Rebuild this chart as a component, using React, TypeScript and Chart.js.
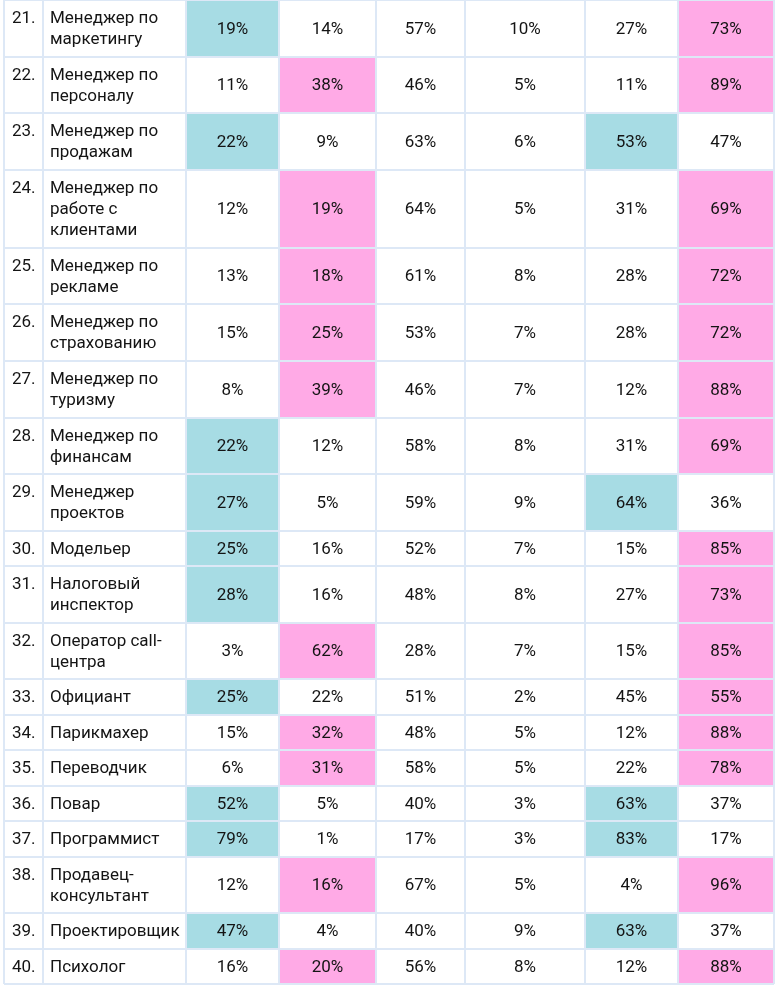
import React, { useEffect, useRef } from "react";
import { Chart, registerables } from "chart.js";

Chart.register(...registerables);

// ---- data ----
const rowNumbers = ["21.", "22.", "23.", "24.", "25.", "26.", "27.", "28.", "29.", "30.", "31.", "32.", "33.", "34.", "35.", "36.", "37.", "38.", "39.", "40."];
const professions: string[][] = [
  ["Менеджер по", "маркетингу"],
  ["Менеджер по", "персоналу"],
  ["Менеджер по", "продажам"],
  ["Менеджер по", "работе с", "клиентами"],
  ["Менеджер по", "рекламе"],
  ["Менеджер по", "страхованию"],
  ["Менеджер по", "туризму"],
  ["Менеджер по", "финансам"],
  ["Менеджер", "проектов"],
  ["Модельер"],
  ["Налоговый", "инспектор"],
  ["Оператор call-", "центра"],
  ["Официант"],
  ["Парикмахер"],
  ["Переводчик"],
  ["Повар"],
  ["Программист"],
  ["Продавец-", "консультант"],
  ["Проектировщик"],
  ["Психолог"],
];
const col1 = [19, 11, 22, 12, 13, 15, 8, 22, 27, 25, 28, 3, 25, 15, 6, 52, 79, 12, 47, 16];
const col2 = [14, 38, 9, 19, 18, 25, 39, 12, 5, 16, 16, 62, 22, 32, 31, 5, 1, 16, 4, 20];
const col3 = [57, 46, 63, 64, 61, 53, 46, 58, 59, 52, 48, 28, 51, 48, 58, 40, 17, 67, 40, 56];
const col4 = [10, 5, 6, 5, 8, 7, 7, 8, 9, 7, 8, 7, 2, 5, 5, 3, 3, 5, 9, 8];
const col5 = [27, 11, 53, 31, 28, 28, 12, 31, 64, 15, 27, 15, 45, 12, 22, 63, 83, 4, 63, 12];
const col6 = [73, 89, 47, 69, 72, 72, 88, 69, 36, 85, 73, 85, 55, 88, 78, 37, 17, 96, 37, 88];
const valueColumns = [col1, col2, col3, col4, col5, col6];

// ---- layout / style ----
const COL_WIDTHS = [39, 143, 93, 97, 89, 120, 93, 96];
const LINE_UNIT = 1;
const ROW_PAD = 0.67;
const TEAL = "#a7dce4";
const PINK = "#ffaae6";
const GRID = "#dde8f6";
const FONT = "17px Roboto, 'Noto Sans', sans-serif";
const TEXT = "#141414";

const colEdges: number[] = [0];
COL_WIDTHS.forEach((w) => colEdges.push(colEdges[colEdges.length - 1] + w));
const rowEdges: number[] = [0];
professions.forEach((p) => rowEdges.push(rowEdges[rowEdges.length - 1] + p.length * LINE_UNIT + ROW_PAD));
const TOTAL_W = colEdges[colEdges.length - 1];
const TOTAL_H = rowEdges[rowEdges.length - 1];

function highlight(r: number, c: number): string | null {
  // pairs (col1,col2) and (col5,col6): larger share is marked
  if (c === 0 && col1[r] > col2[r]) return TEAL;
  if (c === 1 && col2[r] >= col1[r]) return PINK;
  if (c === 4 && col5[r] > col6[r]) return TEAL;
  if (c === 5 && col6[r] >= col5[r]) return PINK;
  return null;
}

const tablePlugin = {
  id: "tablePlugin",
  afterDatasetsDraw(chart: any) {
    const ctx = chart.ctx as CanvasRenderingContext2D;
    const xs = chart.scales.x;
    const ys = chart.scales.y;
    const px = (v: number) => xs.getPixelForValue(v);
    const py = (v: number) => ys.getPixelForValue(v);
    const lineH = Math.abs(py(LINE_UNIT) - py(0));
    ctx.save();
    // fills
    for (let r = 0; r < professions.length; r++) {
      for (let c = 0; c < valueColumns.length; c++) {
        const col = highlight(r, c);
        if (!col) continue;
        const x0 = px(colEdges[c + 2]);
        const x1 = px(colEdges[c + 3]);
        const y0 = py(rowEdges[r]);
        const y1 = py(rowEdges[r + 1]);
        ctx.fillStyle = col;
        ctx.fillRect(x0, y0, x1 - x0, y1 - y0);
      }
    }
    // grid
    ctx.strokeStyle = GRID;
    ctx.lineWidth = 2;
    ctx.beginPath();
    rowEdges.forEach((e) => {
      const y = Math.round(py(e));
      ctx.moveTo(px(0), y);
      ctx.lineTo(px(TOTAL_W), y);
    });
    colEdges.forEach((e) => {
      const x = Math.round(px(e));
      ctx.moveTo(x, py(0));
      ctx.lineTo(x, py(TOTAL_H));
    });
    ctx.stroke();
    // text
    ctx.fillStyle = TEXT;
    ctx.font = FONT;
    ctx.textBaseline = "middle";
    for (let r = 0; r < professions.length; r++) {
      const cy = (py(rowEdges[r]) + py(rowEdges[r + 1])) / 2;
      const lines = professions[r];
      const firstY = cy - ((lines.length - 1) * lineH) / 2;
      ctx.textAlign = "left";
      ctx.fillText(rowNumbers[r], px(colEdges[0]) + 8, firstY + 1);
      lines.forEach((ln, i) => ctx.fillText(ln, px(colEdges[1]) + 7, firstY + i * lineH + 1));
      ctx.textAlign = "center";
      for (let c = 0; c < valueColumns.length; c++) {
        const cx = (px(colEdges[c + 2]) + px(colEdges[c + 3])) / 2;
        ctx.fillText(valueColumns[c][r] + "%", cx, cy + 1);
      }
    }
    ctx.restore();
  },
};

export default function App() {
  const ref = useRef<HTMLCanvasElement | null>(null);
  useEffect(() => {
    document.body.style.margin = "0";
    document.body.style.background = "#ffffff";
    if (!ref.current) return;
    const chart = new Chart(ref.current, {
      type: "scatter",
      data: { datasets: [] },
      options: {
        animation: false,
        responsive: false,
        layout: { padding: { left: 4, right: 5, top: 0, bottom: 2 } },
        plugins: { legend: { display: false }, tooltip: { enabled: false } },
        scales: {
          x: { type: "linear", min: 0, max: TOTAL_W, display: false },
          y: { type: "linear", min: 0, max: TOTAL_H, reverse: true, display: false },
        },
      },
      plugins: [tablePlugin],
    });
    return () => chart.destroy();
  }, []);
  return (
    <div style={{ width: 779, height: 986, background: "#fff" }}>
      <canvas ref={ref} width={779} height={986} style={{ display: "block" }} />
    </div>
  );
}
